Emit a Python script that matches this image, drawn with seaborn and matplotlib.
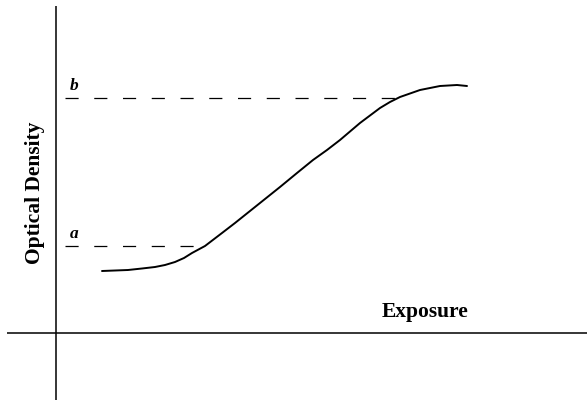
import numpy as np
import pandas as pd
import matplotlib
matplotlib.use("Agg")
import matplotlib.pyplot as plt
import seaborn as sns

# Characteristic (H&D) curve (arbitrary units, origin at axes crossing)
exposure = [0.46, 0.59, 0.72, 0.86, 0.99, 1.09, 1.19, 1.28, 1.36, 1.49, 1.66, 1.79,
            1.99, 2.24, 2.41, 2.57, 2.71, 2.84, 3.04, 3.24, 3.34, 3.44, 3.64, 3.84,
            4.01, 4.11]
density = [0.62, 0.625, 0.63, 0.645, 0.66, 0.68, 0.71, 0.75, 0.80, 0.87, 1.00, 1.10,
           1.26, 1.46, 1.60, 1.73, 1.83, 1.93, 2.10, 2.25, 2.31, 2.36, 2.43, 2.47,
           2.48, 2.47]

level_names = ["a", "b"]
level_density = [0.87, 2.35]
level_exposure = [1.49, 3.44]

x_label = "Exposure"
y_label = "Optical Density"

df = pd.DataFrame({"Exposure": exposure, "Density": density})

sns.set_style("white")
plt.rcParams["font.family"] = ["Liberation Serif", "DejaVu Serif"]
plt.rcParams["text.color"] = "black"

fig = plt.figure(figsize=(5.87, 4.03), dpi=100)
ax = fig.add_axes([0, 0, 1, 1])
ax.set_xlim(-0.56, 5.31)
ax.set_ylim(-0.70, 3.33)
ax.set_axis_off()

# axes lines
ax.plot([0.0, 0.0], [3.27, -0.67], color="black", lw=1.1, solid_capstyle="butt")
ax.plot([-0.49, 5.31], [0.0, 0.0], color="black", lw=1.1, solid_capstyle="butt")

# dashed reference levels
for name, yv, xv in zip(level_names, level_density, level_exposure):
    ax.plot([0.09, xv], [yv, yv], color="black", lw=0.9, dashes=(10.5, 12.5))
    ax.text(0.18, yv + 0.125, name, fontsize=12.5, fontweight="bold",
            fontstyle="italic", ha="center", va="center", color="black")

sns.lineplot(data=df, x="Exposure", y="Density", ax=ax, color="black",
             lw=1.4, sort=False, legend=False)
for ln in ax.get_lines():
    ln.set_solid_joinstyle("round")

ax.text(3.69, 0.21, x_label, fontsize=15.5, fontweight="bold",
        ha="center", va="center", color="black")
ax.text(-0.21, 1.40, y_label, fontsize=15.5, fontweight="bold",
        rotation=90, ha="center", va="center", color="black")

fig.savefig("out.png", dpi=100)
